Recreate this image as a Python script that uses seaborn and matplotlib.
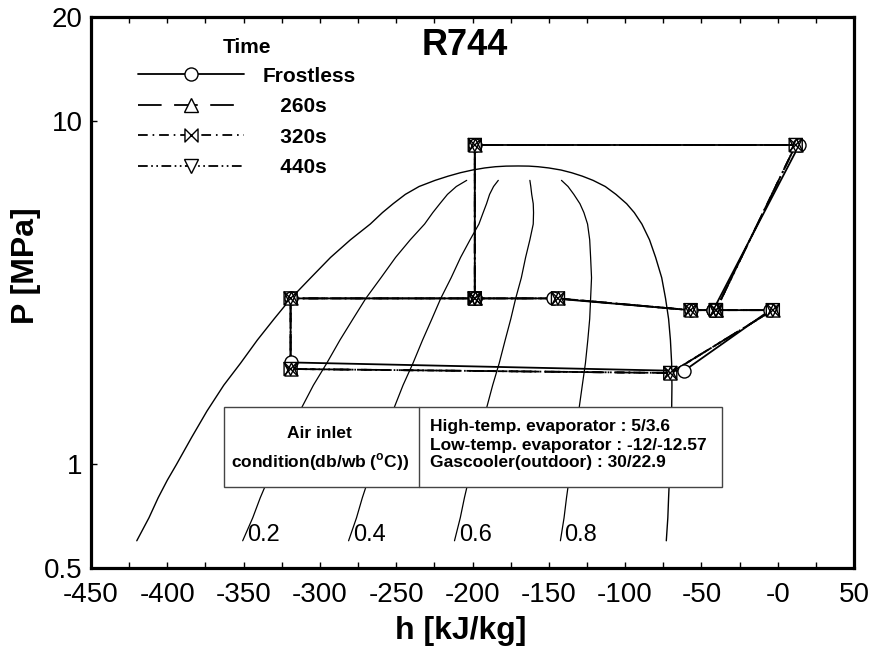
import numpy as np
import pandas as pd
import matplotlib
matplotlib.use("Agg")
import matplotlib.pyplot as plt
from matplotlib.path import Path
from matplotlib.lines import Line2D
from matplotlib.patches import Rectangle
from matplotlib.ticker import MultipleLocator, NullLocator
import seaborn as sns

# CO2 saturation line: pressure [MPa], liquid / vapour enthalpy [kJ/kg]
sat_p = [0.60, 0.70, 0.80, 0.90, 1.00, 1.20, 1.43, 1.70, 1.97, 2.30, 2.65, 3.04,
         3.49, 4.00, 4.50, 5.00, 5.40, 5.73, 6.10, 6.43, 6.70, 6.89, 7.05, 7.18,
         7.28, 7.34, 7.37, 7.377]
sat_hf = [-420, -412, -406, -400, -394, -384, -374, -363, -352, -341, -330, -319,
          -306, -293, -280, -267, -259, -252, -244, -235, -224.5, -216, -208, -200,
          -192, -185, -178, -170]
sat_hg = [-73, -72, -71.5, -71, -70.5, -70, -69.5, -69.3, -69.5, -70.3, -71.5, -73.5,
          -76, -80, -84, -89, -94, -99, -106, -113, -121, -128, -135, -142,
          -150, -157, -163, -170]
qualities = [0.2, 0.4, 0.6, 0.8]
quality_labels = ["0.2", "0.4", "0.6", "0.8"]
quality_p_max = 6.70

# Cycle state points, path order: D J I A B C D E F G H A
series_names = ["Frostless", "260s", "320s", "440s"]
h_frostless = [-198.5, -147.3, -57.1, -42.3, 14.1, -198.5, -198.5, -319.2, -319.2, -61.5, -5.0, -42.3]
p_frostless = [3.04, 3.04, 2.81, 2.81, 8.49, 8.49, 3.04, 3.04, 1.98, 1.87, 2.81, 2.81]
h_260s = [-198.5, -144.0, -57.1, -40.5, 11.8, -198.5, -198.5, -319.2, -319.2, -70.4, -3.2, -40.5]
p_260s = [3.04, 3.04, 2.81, 2.81, 8.49, 8.49, 3.04, 3.04, 1.895, 1.845, 2.81, 2.81]
h_320s = [-198.5, -144.0, -57.1, -40.5, 11.8, -198.5, -198.5, -319.2, -319.2, -70.4, -3.2, -40.5]
p_320s = [3.04, 3.04, 2.81, 2.81, 8.49, 8.49, 3.04, 3.04, 1.895, 1.845, 2.81, 2.81]
h_440s = [-198.5, -144.0, -57.1, -40.5, 11.8, -198.5, -198.5, -319.2, -319.2, -70.4, -3.2, -40.5]
p_440s = [3.04, 3.04, 2.81, 2.81, 8.49, 8.49, 3.04, 3.04, 1.895, 1.845, 2.81, 2.81]

x_ticks = [-450, -400, -350, -300, -250, -200, -150, -100, -50, 0, 50]
x_tick_labels = ["-450", "-400", "-350", "-300", "-250", "-200", "-150", "-100", "-50", "-0", "50"]
y_ticks = [0.5, 1, 10, 20]
y_tick_labels = ["0.5", "1", "10", "20"]

sns.set_theme(style="ticks")
plt.rcParams["font.family"] = ["Liberation Sans", "DejaVu Sans"]
plt.rcParams["mathtext.fontset"] = "custom"
plt.rcParams["mathtext.rm"] = "Liberation Sans"
plt.rcParams["mathtext.bf"] = "Liberation Sans:bold"
plt.rcParams["lines.scale_dashes"] = False
for key in ["text.color", "axes.labelcolor", "xtick.color", "ytick.color",
            "xtick.labelcolor", "ytick.labelcolor", "axes.edgecolor"]:
    plt.rcParams[key] = "black"

fig = plt.figure(figsize=(8.77, 6.58), dpi=100)
ax = fig.add_axes([91 / 877, 1 - 568 / 658, (854 - 91) / 877, (568 - 17) / 658])
ax.set_yscale("log")
ax.set_xlim(-450, 50)
ax.set_ylim(0.5, 20)

# saturation dome
dome_h = sat_hf + sat_hg[-2::-1]
dome_p = sat_p + sat_p[-2::-1]
sns.lineplot(x=dome_h, y=dome_p, sort=False, estimator=None, color="black",
             lw=1.0, ax=ax, zorder=1)

# constant-quality lines
sat = pd.DataFrame({"P": sat_p, "hf": sat_hf, "hg": sat_hg})
sat_q = sat[sat["P"] <= quality_p_max]
for q, lab in zip(qualities, quality_labels):
    hq = sat_q["hf"] + q * (sat_q["hg"] - sat_q["hf"])
    sns.lineplot(x=hq.values, y=sat_q["P"].values, sort=False, estimator=None,
                 color="black", lw=0.9, ax=ax, zorder=1)
    ax.annotate(lab, (hq.values[0], sat_q["P"].values[0]), xytext=(3, 0),
                textcoords="offset points", ha="left", va="baseline",
                fontsize=17, color="black")

# markers
bowtie = Path([(-1, 1), (1, -1), (1, 1), (-1, -1), (-1, 1)],
              [Path.MOVETO, Path.LINETO, Path.LINETO, Path.LINETO, Path.CLOSEPOLY])
styles = {
    "Frostless": dict(ls="-", marker="o", fc="white"),
    "260s": dict(ls=(0, (17, 9)), marker="^", fc="white"),
    "320s": dict(ls=(0, (7, 3.5, 1.2, 3.5)), marker=bowtie, fc="none"),
    "440s": dict(ls=(0, (7, 2.5, 1.2, 2.5, 1.2, 2.5)), marker="v", fc="none"),
}
series_h = [h_frostless, h_260s, h_320s, h_440s]
series_p = [p_frostless, p_260s, p_320s, p_440s]

msize = 9.4
for name, hs, ps in zip(series_names, series_h, series_p):
    st = styles[name]
    df = pd.DataFrame({"h": hs, "P": ps})
    sns.lineplot(data=df, x="h", y="P", sort=False, estimator=None, color="black",
                 lw=1.3, linestyle=st["ls"], ax=ax, zorder=4)
for k, (name, hs, ps) in enumerate(zip(series_names, series_h, series_p)):
    st = styles[name]
    df = pd.DataFrame({"h": hs, "P": ps})
    sns.scatterplot(data=df, x="h", y="P", marker=st["marker"], s=msize ** 2,
                    facecolor=st["fc"], edgecolor="black", linewidth=1.0,
                    ax=ax, zorder=5 + k)

# legend
handles = [Line2D([], [], color="black", lw=1.3, linestyle=styles[n]["ls"],
                  marker=styles[n]["marker"], markersize=msize,
                  markerfacecolor="white", markeredgecolor="black", markeredgewidth=1.0)
           for n in series_names]
labels = ["Frostless", "   260s", "   320s", "   440s"]
leg = ax.legend(handles, labels, title="Time", loc="upper left",
                bbox_to_anchor=(0.0616, 0.962), frameon=False, numpoints=1,
                handlelength=5.1, handletextpad=0.9, labelspacing=0.55,
                borderaxespad=0, borderpad=0,
                prop={"weight": "bold", "size": 15},
                title_fontproperties={"weight": "bold", "size": 15})
leg._legend_box.sep = 7
for t in leg.get_texts():
    t.set_color("black")
leg.get_title().set_color("black")

# title
ax.text(0.49, 0.949, "R744", transform=ax.transAxes, ha="center", va="center",
        fontsize=26, fontweight="bold", color="black")

# air inlet condition box
bx0, by0, bx1, by1, bdiv = 0.1743, 0.147, 0.827, 0.2922, 0.43
ax.add_patch(Rectangle((bx0, by0), bx1 - bx0, by1 - by0, transform=ax.transAxes,
                       facecolor="white", edgecolor="#444444", lw=1.0, zorder=3))
ax.plot([bdiv, bdiv], [by0, by1], transform=ax.transAxes, color="#444444", lw=1.0, zorder=3)
ax.text(0.300, 0.2432, "Air inlet", transform=ax.transAxes, ha="center", va="center",
        fontsize=12.5, fontweight="bold", color="black", zorder=4)
ax.text(0.300, 0.1924, r"condition(db/wb ($^{\mathbf{o}}$C))", transform=ax.transAxes,
        ha="center", va="center", fontsize=12.5, fontweight="bold", color="black", zorder=4)
box_lines = ["High-temp. evaporator : 5/3.6", "Low-temp. evaporator : -12/-12.57",
             "Gascooler(outdoor) : 30/22.9"]
for txt, yy in zip(box_lines, [0.2559, 0.2232, 0.1906]):
    ax.text(0.4443, yy, txt, transform=ax.transAxes, ha="left", va="center",
            fontsize=12.5, fontweight="bold", color="black", zorder=4)

# axes, ticks, labels
ax.set_xticks(x_ticks)
ax.set_xticklabels(x_tick_labels, fontsize=20)
ax.xaxis.set_minor_locator(MultipleLocator(25))
ax.set_yticks(y_ticks)
ax.set_yticklabels(y_tick_labels, fontsize=20)
ax.yaxis.set_minor_locator(NullLocator())
ax.tick_params(axis="x", which="both", direction="in", top=True, bottom=True,
               length=4, width=1, pad=10, colors="black")
ax.tick_params(axis="y", which="both", direction="in", left=True, right=False,
               length=4, width=1, pad=6, colors="black")
for sp in ax.spines.values():
    sp.set_visible(True)
    sp.set_linewidth(2.3)
    sp.set_color("black")

ax.set_xlabel("h [kJ/kg]", fontsize=23, fontweight="bold", color="black")
ax.set_ylabel("P [MPa]", fontsize=23, fontweight="bold", color="black")
ax.xaxis.set_label_coords(0.485, -0.088)
ax.xaxis.label.set_va("top")
ax.yaxis.set_label_coords(-0.066, 0.548)

fig.savefig("out.png", dpi=100)
